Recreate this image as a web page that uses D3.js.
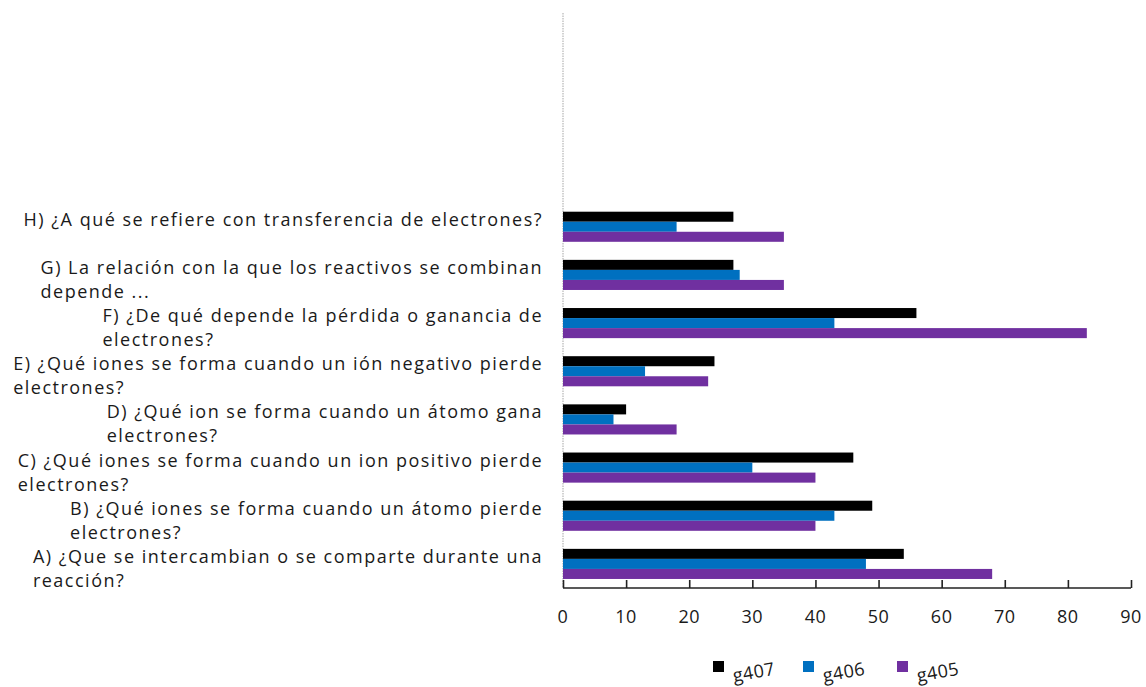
<!DOCTYPE html>
<html>
<head>
<meta charset="utf-8">
<script src="https://cdn.jsdelivr.net/npm/d3@7"></script>
<style>
  html, body { margin: 0; padding: 0; background: #fff; }
  svg { display: block; }
  text { font-family: "Open Sans", sans-serif; fill: #1a1a1a; }
</style>
</head>
<body>
<svg id="chart" width="1146" height="687"></svg>
<script>
// ---- data ----
const categories = ["A", "B", "C", "D", "E", "F", "G", "H"];
const labels = [
  ["A) ¿Que se intercambian o se comparte durante una", "reacción?"],
  ["B) ¿Qué iones se forma cuando un átomo pierde", "electrones?"],
  ["C) ¿Qué iones se forma cuando un ion positivo pierde", "electrones?"],
  ["D) ¿Qué ion se forma cuando un átomo gana", "electrones?"],
  ["E) ¿Qué iones se forma cuando un ión negativo pierde", "electrones?"],
  ["F) ¿De qué depende la pérdida o ganancia de", "electrones?"],
  ["G) La relación con la que los reactivos se combinan", "depende ..."],
  ["H) ¿A qué se refiere con transferencia de electrones?"]
];
const seriesNames = ["g407", "g406", "g405"];
const g407 = [54, 49, 46, 10, 24, 56, 27, 27];
const g406 = [48, 43, 30, 8, 13, 43, 28, 18];
const g405 = [68, 40, 40, 18, 23, 83, 35, 35];
const seriesColors = ["#000000", "#0070C0", "#7030A0"];
const xTicks = [0, 10, 20, 30, 40, 50, 60, 70, 80, 90];

const seriesValues = [g407, g406, g405];

// ---- layout ----
const svg = d3.select("#chart");
const plotLeft = 563, plotRight = 1131, plotTop = 10, plotBottom = 588;
const totalSlots = 12; // chart area holds 12 category slots, upper 4 are empty
const slotH = (plotBottom - plotTop) / totalSlots;

const x = d3.scaleLinear().domain([0, 90]).range([plotLeft, plotRight]);
const y = d3.scaleBand()
  .domain(categories.slice().reverse())   // H at top, A at bottom
  .range([plotBottom - categories.length * slotH, plotBottom])
  .paddingInner(0.375)
  .paddingOuter(0.1875);
const ys = d3.scaleBand().domain(seriesNames).range([0, y.bandwidth()]);

// vertical dotted axis line
svg.append("line")
  .attr("x1", x(0)).attr("x2", x(0))
  .attr("y1", 13).attr("y2", plotBottom)
  .attr("stroke", "#b5b5b5").attr("stroke-width", 1.2)
  .attr("stroke-dasharray", "1.5,1");

// bars
const groups = svg.append("g").selectAll("g")
  .data(categories)
  .join("g")
  .attr("transform", c => `translate(0,${y(c)})`);

groups.selectAll("rect")
  .data((c, i) => seriesNames.map((s, k) => ({ s, k, v: seriesValues[k][i] })))
  .join("rect")
  .attr("x", x(0))
  .attr("y", d => ys(d.s))
  .attr("width", d => x(d.v) - x(0))
  .attr("height", ys.bandwidth())
  .attr("fill", d => seriesColors[d.k]);

// x axis (ticks pointing up)
const xAxis = d3.axisTop(x).tickValues(xTicks).tickSize(8).tickFormat("");
const ax = svg.append("g").attr("transform", `translate(0,${plotBottom})`).call(xAxis);
ax.select(".domain").attr("stroke", "#222").attr("stroke-width", 1.6)
  .attr("d", `M${plotLeft},0H${plotRight}`);
ax.selectAll(".tick line").attr("stroke", "#222").attr("stroke-width", 1.6);

svg.append("g").selectAll("text")
  .data(xTicks)
  .join("text")
  .attr("x", d => x(d))
  .attr("y", 623)
  .attr("text-anchor", "middle")
  .attr("font-size", 18)
  .attr("letter-spacing", 0.5)
  .text(d => d);

// category labels
const labelRight = 543;
const lineH = 24;
const labG = svg.append("g");
categories.forEach((c, i) => {
  const cy = y(c) + y.bandwidth() / 2;
  const t = labG.append("text").attr("font-size", 18).attr("letter-spacing", 1.5);
  const first = t.append("tspan").attr("y", cy - 1).text(labels[i][0]);
  const w = first.node().getComputedTextLength();
  const x0 = labelRight - w;
  first.attr("x", x0);
  labels[i].slice(1).forEach((ln, j) => {
    t.append("tspan").attr("x", x0).attr("y", cy - 1 + lineH * (j + 1)).text(ln);
  });
});

// legend
const legX = [713, 803, 897];
const leg = svg.append("g");
seriesNames.forEach((s, k) => {
  leg.append("rect")
    .attr("x", legX[k]).attr("y", 661)
    .attr("width", 11).attr("height", 11)
    .attr("fill", seriesColors[k]);
  leg.append("text")
    .attr("transform", `translate(${legX[k] + 21},${682}) rotate(-10)`)
    .attr("font-size", 18)
    .attr("letter-spacing", 0.5)
    .text(s);
});
</script>
</body>
</html>
